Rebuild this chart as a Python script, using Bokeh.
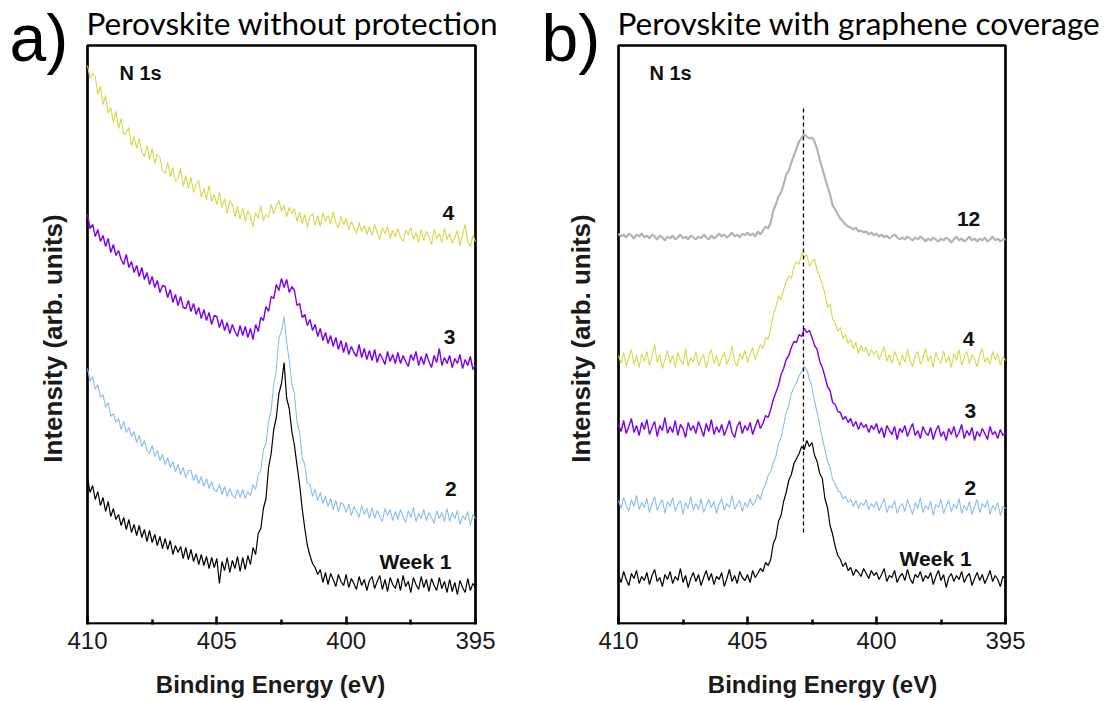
import math
from bokeh.plotting import figure
from bokeh.models import Range1d, FixedTicker, Label
from bokeh.layouts import row
from bokeh.embed import file_html
from bokeh.resources import INLINE

# Binding energy grid (eV), 410 -> 395 in 0.1 eV steps
energy = [round(410 - 0.1 * i, 1) for i in range(151)]

# ---------------- Panel a: perovskite without protection ----------------
a_week1 = [148, 133, 140, 126, 134, 120, 128, 114, 124, 109,
           117, 106, 111, 100, 108, 96, 106, 93, 101, 90,
           100, 88, 96, 84, 95, 83, 91, 80, 89, 77,
           87, 76, 85, 71, 80, 73, 79, 67, 78, 66,
           76, 64, 72, 61, 71, 60, 69, 57, 68, 58,
           67, 42, 64, 55, 68, 53, 65, 57, 69, 54,
           68, 56, 70, 61, 78, 71, 92, 97, 117, 127,
           158, 172, 196, 208, 232, 242, 263, 227, 217, 194,
           180, 160, 141, 117, 97, 80, 70, 62, 58, 51,
           56, 43, 53, 41, 52, 46, 39, 51, 44, 40,
           51, 38, 47, 42, 36, 49, 40, 46, 35, 45,
           49, 37, 44, 50, 36, 46, 34, 48, 41, 37,
           47, 35, 50, 39, 44, 33, 48, 41, 36, 49,
           38, 46, 34, 47, 40, 35, 48, 37, 44, 33,
           46, 34, 43, 31, 45, 38, 33, 47, 35, 42,
           38]
a_week2 = [257, 244, 249, 236, 241, 228, 231, 218, 223, 209,
           212, 203, 207, 196, 204, 193, 198, 189, 194, 183,
           190, 179, 185, 175, 172, 180, 169, 175, 165, 171,
           161, 168, 158, 164, 154, 161, 151, 158, 148, 155,
           155, 145, 151, 142, 149, 139, 147, 137, 144, 135,
           134, 141, 131, 139, 129, 137, 130, 127, 136, 128,
           136, 127, 134, 130, 141, 136, 151, 155, 176, 182,
           204, 215, 241, 256, 288, 294, 309, 283, 265, 241,
           232, 203, 193, 168, 161, 142, 141, 129, 136, 125,
           133, 122, 129, 119, 127, 116, 125, 114, 123, 121,
           113, 121, 110, 119, 114, 108, 120, 111, 117, 107,
           118, 107, 115, 109, 104, 117, 110, 116, 105, 114,
           106, 116, 109, 103, 115, 108, 118, 104, 112, 107,
           116, 105, 113, 108, 102, 115, 107, 113, 104, 117,
           104, 113, 107, 115, 101, 110, 106, 114, 100, 111,
           107]
a_week3 = [411, 397, 401, 389, 396, 384, 390, 379, 387, 373,
           381, 370, 375, 366, 361, 371, 358, 364, 353, 360,
           349, 358, 346, 353, 341, 349, 338, 345, 333, 340,
           339, 328, 336, 323, 331, 320, 329, 318, 317, 325,
           314, 322, 311, 318, 307, 316, 305, 313, 301, 310,
           309, 298, 306, 295, 303, 292, 301, 294, 289, 300,
           290, 299, 288, 297, 286, 301, 294, 308, 305, 319,
           314, 329, 327, 341, 335, 347, 338, 346, 333, 339,
           335, 320, 322, 308, 311, 300, 306, 295, 301, 289,
           297, 285, 293, 282, 290, 279, 288, 276, 285, 273,
           283, 271, 279, 273, 269, 281, 268, 277, 266, 275,
           265, 276, 263, 272, 267, 261, 274, 264, 271, 262,
           273, 262, 270, 264, 259, 271, 265, 274, 260, 269,
           261, 272, 264, 258, 270, 263, 277, 260, 268, 262,
           270, 258, 267, 262, 271, 257, 266, 260, 269, 256,
           261]
a_week4 = [560, 547, 552, 549, 531, 539, 521, 530, 512, 518,
           503, 514, 497, 507, 491, 493, 498, 480, 489, 477,
           487, 474, 469, 480, 466, 477, 462, 471, 468, 455,
           452, 463, 449, 458, 444, 447, 457, 439, 450, 437,
           448, 433, 441, 445, 428, 437, 426, 440, 424, 431,
           421, 434, 418, 427, 412, 425, 421, 409, 419, 406,
           418, 404, 415, 409, 399, 413, 407, 420, 405, 411,
           408, 421, 412, 419, 425, 414, 420, 409, 418, 412,
           417, 404, 413, 402, 411, 398, 409, 412, 400, 410,
           399, 413, 404, 410, 401, 414, 403, 398, 409, 401,
           407, 396, 404, 398, 392, 403, 394, 400, 391, 399,
           390, 401, 393, 386, 398, 392, 399, 387, 395, 389,
           397, 388, 384, 395, 391, 398, 386, 393, 383, 396,
           385, 394, 389, 381, 396, 387, 392, 383, 397, 386,
           392, 382, 388, 395, 380, 391, 401, 384, 379, 390,
           384]

# ---------------- Panel b: perovskite with graphene coverage ----------------
b_week1 = [51, 43, 54, 46, 40, 52, 47, 55, 42, 49,
           45, 53, 41, 50, 56, 44, 48, 39, 51, 46,
           54, 42, 49, 45, 57, 43, 50, 38, 47, 53,
           44, 51, 40, 48, 55, 45, 52, 41, 49, 46,
           53, 39, 47, 56, 44, 50, 42, 54, 48, 45,
           51, 43, 55, 48, 52, 57, 54, 63, 60, 66,
           82, 88, 104, 110, 124, 133, 145, 151, 162, 167,
           172, 179, 176, 185, 179, 183, 170, 164, 152, 147,
           127, 118, 100, 91, 79, 70, 66, 59, 63, 55,
           58, 50, 56, 53, 49, 57, 52, 47, 55, 50,
           53, 46, 51, 57, 44, 50, 48, 55, 43, 49,
           52, 45, 56, 47, 42, 51, 48, 54, 44, 50,
           47, 53, 41, 49, 55, 45, 51, 38, 48, 52,
           44, 50, 46, 54, 43, 49, 52, 40, 47, 53,
           45, 51, 42, 48, 55, 44, 50, 46, 39, 49,
           47]
b_week2 = [125, 117, 128, 120, 114, 126, 119, 130, 116, 123,
           118, 127, 113, 122, 129, 115, 121, 126, 112, 124,
           119, 128, 114, 121, 125, 111, 123, 117, 129, 115,
           122, 116, 127, 113, 120, 126, 118, 124, 112, 121,
           127, 115, 122, 118, 130, 116, 121, 125, 114, 123,
           118, 127, 120, 124, 131, 126, 136, 141, 150, 154,
           163, 169, 182, 188, 200, 213, 220, 232, 238, 243,
           250, 254, 259, 256, 246, 239, 224, 213, 200, 187,
           176, 164, 158, 146, 142, 135, 133, 127, 129, 123,
           126, 119, 125, 117, 123, 120, 126, 116, 122, 118,
           124, 115, 121, 127, 113, 120, 117, 125, 112, 119,
           122, 114, 126, 118, 111, 123, 117, 128, 113, 120,
           116, 124, 110, 121, 118, 126, 112, 119, 125, 114,
           121, 117, 127, 112, 120, 115, 124, 111, 119, 126,
           113, 122, 118, 125, 111, 120, 116, 123, 110, 119,
           117]
b_week3 = [201, 194, 205, 192, 199, 207, 193, 200, 190, 203,
           196, 206, 191, 198, 204, 189, 200, 195, 208, 192,
           199, 193, 205, 190, 201, 197, 188, 203, 195, 200,
           192, 204, 197, 189, 202, 194, 206, 191, 199, 193,
           201, 190, 197, 205, 193, 188, 199, 204, 192, 200,
           195, 203, 191, 199, 206, 197, 202, 210, 208, 216,
           226, 233, 240, 251, 257, 266, 270, 278, 284, 283,
           291, 289, 297, 293, 295, 288, 280, 276, 264, 258,
           249, 239, 235, 223, 221, 214, 213, 206, 209, 203,
           207, 199, 204, 196, 203, 198, 201, 193, 200, 196,
           202, 192, 198, 188, 200, 195, 191, 199, 186, 197,
           193, 200, 189, 196, 202, 190, 195, 187, 199, 193,
           190, 198, 186, 195, 200, 189, 194, 185, 197, 191,
           199, 188, 193, 201, 187, 195, 190, 198, 185, 194,
           189, 197, 192, 186, 199, 191, 194, 187, 196, 190,
           193]
b_week4 = [270, 262, 273, 259, 268, 276, 261, 270, 258, 272,
           264, 274, 260, 269, 281, 263, 271, 257, 266, 275,
           262, 270, 258, 273, 265, 261, 277, 259, 268, 263,
           274, 260, 266, 271, 257, 269, 276, 262, 270, 259,
           267, 273, 261, 268, 280, 264, 259, 272, 266, 275,
           263, 271, 278, 266, 274, 281, 277, 288, 286, 297,
           311, 318, 330, 326, 336, 344, 350, 347, 359, 364,
           361, 373, 368, 371, 359, 364, 366, 355, 349, 341,
           332, 318, 322, 306, 303, 294, 298, 287, 291, 282,
           286, 277, 283, 272, 280, 274, 278, 269, 276, 271,
           275, 266, 272, 279, 264, 271, 262, 274, 268, 260,
           271, 263, 276, 265, 259, 270, 274, 261, 268, 277,
           264, 270, 258, 273, 266, 262, 275, 263, 269, 258,
           272, 265, 276, 260, 268, 274, 262, 271, 266, 259,
           270, 277, 263, 268, 261, 274, 266, 272, 260, 269,
           265]
b_week12 = [392, 389, 391, 388, 392, 390, 387, 391, 389, 392,
            388, 390, 387, 391, 389, 386, 390, 388, 385, 389,
            387, 390, 386, 388, 391, 387, 389, 386, 390, 388,
            386, 389, 387, 391, 388, 386, 390, 387, 389, 392,
            389, 391, 388, 390, 393, 389, 391, 388, 392, 390,
            393, 390, 392, 389, 394, 391, 395, 399, 397, 403,
            415, 421, 429, 433, 441, 451, 455, 463, 470, 477,
            484, 488, 491, 489, 487, 488, 484, 476, 466, 457,
            448, 439, 431, 420, 416, 411, 407, 404, 401, 399,
            398, 396, 398, 394, 395, 393, 394, 391, 393, 390,
            392, 389, 391, 388, 390, 387, 389, 391, 388, 386,
            388, 386, 389, 387, 385, 388, 386, 389, 387, 384,
            387, 385, 388, 386, 384, 387, 385, 388, 386, 383,
            386, 389, 385, 387, 384, 386, 389, 385, 387, 384,
            387, 385, 388, 384, 386, 389, 385, 387, 384, 386,
            386]

# Peak-position guide in panel b
guide_energy = 402.83
guide_low, guide_high = 93, 520

# Series labels: (text, energy, intensity)
labels_a = [("4", 396.05, 413), ("3", 396.0, 289), ("2", 395.95, 137), ("Week 1", 397.32, 64)]
labels_b = [("12", 396.43, 407), ("4", 396.43, 287), ("3", 396.36, 215), ("2", 396.36, 138), ("Week 1", 397.71, 67)]

# Panel box limits (energy, intensity)
E_HI, E_LO = 410, 395
I_LO, I_HI = 1, 580

COL_W1 = "#000000"
COL_W2 = "#8cbcee"
COL_W3 = "#7a00ee"
COL_W4 = "#d6d84a"
COL_W12 = "#b3b3b3"

AX_FONT = "Liberation Sans"
TITLE_FONT = "Lato"
TXT = "#1a1a1a"

for s in (a_week1, a_week2, a_week3, a_week4, b_week1, b_week2, b_week3, b_week4, b_week12):
    assert len(s) == len(energy), len(s)

FRAME_H = 624   # frame spans from canvas top to the panel bottom
BOTTOM = 77     # room for tick labels and the axis title


def make_panel(fig_w, box_left, box_w, letter, letter_x, title, title_x, ylab_x):
    ppe = box_w / (E_HI - E_LO)
    x0 = E_HI + box_left / ppe
    x1 = E_LO - (fig_w - box_left - box_w) / ppe
    p = figure(width=fig_w, height=FRAME_H + BOTTOM,
               frame_width=fig_w, frame_height=FRAME_H,
               min_border_left=0, min_border_right=0,
               min_border_top=0, min_border_bottom=BOTTOM,
               x_range=Range1d(x0, x1), y_range=Range1d(1, 625),
               output_backend="svg", toolbar_location=None)
    p.grid.visible = False
    p.outline_line_color = None
    p.background_fill_color = "white"
    p.border_fill_color = "white"
    p.yaxis.visible = False

    xa = p.xaxis[0]
    xa.ticker = FixedTicker(ticks=[410, 405, 400, 395], minor_ticks=[407.5, 402.5, 397.5])
    xa.axis_line_color = None
    xa.major_tick_in = 8
    xa.major_tick_out = 0
    xa.minor_tick_in = 5
    xa.minor_tick_out = 0
    xa.major_tick_line_width = 2.5
    xa.minor_tick_line_width = 2.5
    xa.major_tick_line_color = "black"
    xa.minor_tick_line_color = "black"
    xa.major_label_text_font = AX_FONT
    xa.major_label_text_font_size = "24px"
    xa.major_label_text_color = TXT
    xa.major_label_standoff = 7
    xa.axis_label = "Binding Energy (eV)"
    xa.axis_label_text_font = AX_FONT
    xa.axis_label_text_font_size = "24px"
    xa.axis_label_text_font_style = "bold"
    xa.axis_label_text_color = TXT
    xa.axis_label_standoff = 19

    # panel box
    p.quad(left=[E_HI], right=[E_LO], bottom=[I_LO + 1], top=[I_HI],
           fill_color=None, line_color="black", line_width=2.7)

    # panel letter, title and y-axis title (screen units: from frame left / frame bottom)
    p.add_layout(Label(x=letter_x, y=FRAME_H - 37, x_units="screen", y_units="screen", text=letter,
                       text_font=AX_FONT, text_font_size="66px", text_color="black",
                       text_baseline="alphabetic"))
    p.add_layout(Label(x=title_x, y=FRAME_H - 22, x_units="screen", y_units="screen", text=title,
                       text_font=TITLE_FONT, text_font_size="31.5px", text_color="black",
                       text_baseline="alphabetic"))
    p.add_layout(Label(x=ylab_x, y=FRAME_H - 338, x_units="screen", y_units="screen",
                       text="Intensity (arb. units)", angle=math.pi / 2,
                       text_font=AX_FONT, text_font_size="26px", text_font_style="bold",
                       text_color=TXT, text_align="center", text_baseline="middle"))
    return p


pa = make_panel(540, 87, 388, "a)", 9, "Perovskite without protection", 86, 52)
pb = make_panel(564, 78, 387, "b)", 1, "Perovskite with graphene coverage", 77, 40)

# Panel a curves
pa.line(energy, a_week4, line_color=COL_W4, line_width=1.1)
pa.line(energy, a_week3, line_color=COL_W3, line_width=1.4)
pa.line(energy, a_week2, line_color=COL_W2, line_width=1.1)
pa.line(energy, a_week1, line_color=COL_W1, line_width=1.2)

# Panel b curves
pb.line(energy, b_week12, line_color=COL_W12, line_width=2.2)
pb.line(energy, b_week4, line_color=COL_W4, line_width=1.1)
pb.line(energy, b_week3, line_color=COL_W3, line_width=1.4)
pb.line(energy, b_week2, line_color=COL_W2, line_width=1.1)
pb.line(energy, b_week1, line_color=COL_W1, line_width=1.2)
pb.segment(x0=[guide_energy], y0=[guide_low], x1=[guide_energy], y1=[guide_high],
           line_color="black", line_width=1.3, line_dash="4 3")

for p, labs, nx in ((pa, labels_a, 407.95), (pb, labels_b, 407.98)):
    for txt, e, v in labs:
        p.add_layout(Label(x=e, y=v, text=txt, text_font=AX_FONT, text_font_size="21px",
                           text_font_style="bold", text_color="#111111",
                           text_align="center", text_baseline="middle"))
    p.add_layout(Label(x=nx, y=553, text="N 1s", text_font=AX_FONT,
                       text_font_size="20px", text_font_style="bold", text_color="#111111",
                       text_align="center", text_baseline="middle"))

layout = row(pa, pb)
open("out.html", "w").write(file_html(layout, INLINE))
